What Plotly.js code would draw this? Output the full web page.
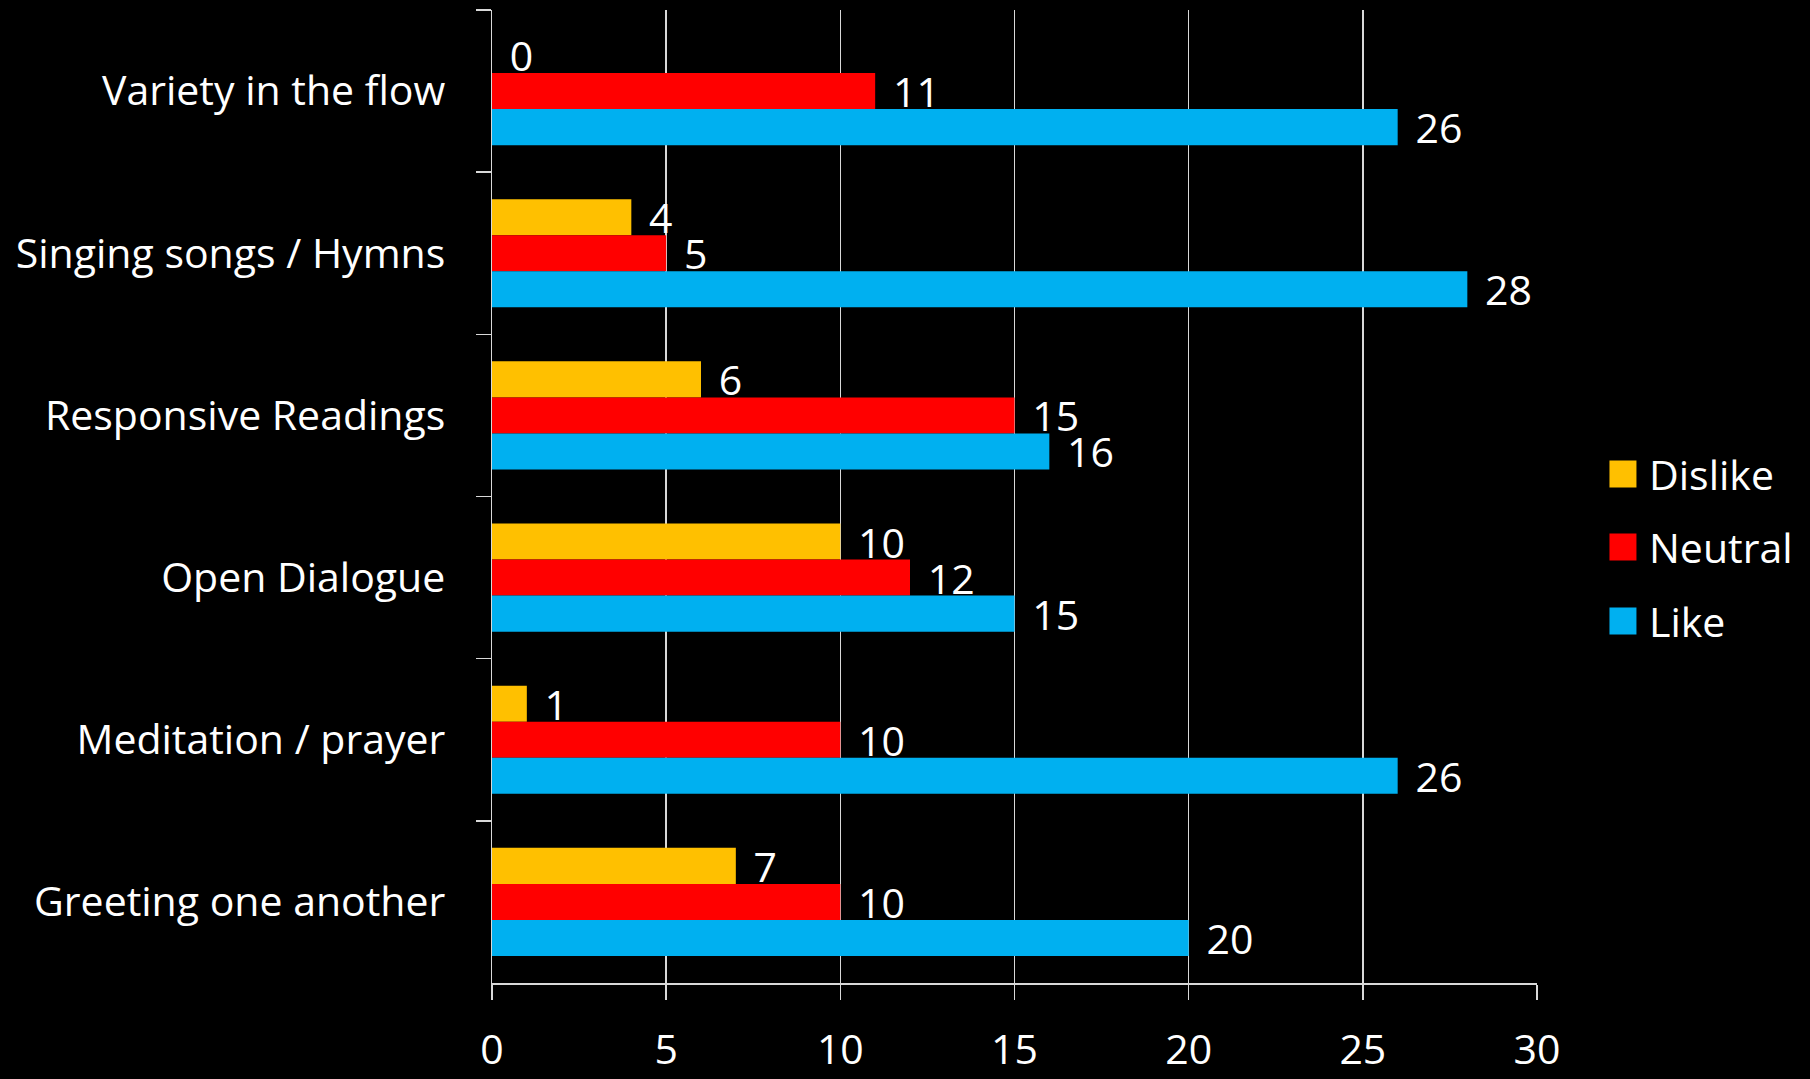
<!DOCTYPE html>
<html>
<head>
<meta charset="utf-8">
<script src="https://cdn.plot.ly/plotly-3.0.1.min.js"></script>
<style>
html,body{margin:0;padding:0;background:#000;}
#chart{width:1810px;height:1079px;}
</style>
</head>
<body>
<div id="chart"></div>
<script>
const categories = ["Variety in the flow","Singing songs / Hymns","Responsive Readings","Open Dialogue","Meditation / prayer","Greeting one another"];
const seriesNames = ["Dislike","Neutral","Like"];
const dislike = [0,4,6,10,1,7];
const neutral = [11,5,15,12,10,10];
const like = [26,28,16,15,26,20];
const colors = ["#FFC000","#FF0000","#00B0F0"];
const xTicks = [0,5,10,15,20,25,30];

const FONT = "'Open Sans', Lato, sans-serif";
const values = [dislike, neutral, like];

const traces = values.map((v,i)=>({
  type:'bar', orientation:'h',
  name: seriesNames[i],
  x: v, y: categories,
  marker:{color: colors[i]},
  texttemplate: '\u00a0\u200a%{x}',
  textposition:'outside',
  constraintext:'none',
  textfont:{color:'#ffffff', size:41, family:FONT},
  cliponaxis:false,
  showlegend:false,
  hoverinfo:'x+name'
}));

// custom legend (square swatches + labels)
const legendShapes = [];
const legendAnn = [];
const legY = [474, 547, 621];
seriesNames.forEach((n,i)=>{
  legendShapes.push({type:'rect', xref:'paper', yref:'paper',
    x0:(1610-492)/(1537.5-492), x1:(1637-492)/(1537.5-492),
    y0:(983-(legY[i]+13.5))/(983-10), y1:(983-(legY[i]-13.5))/(983-10),
    fillcolor:colors[i], line:{width:0}});
  legendAnn.push({xref:'paper', yref:'paper',
    x:(1648-492)/(1537.5-492), y:(983-legY[i])/(983-10),
    xanchor:'left', yanchor:'middle', showarrow:false,
    text:n, font:{color:'#ffffff', size:41, family:FONT}});
});

const layout = {
  width:1810, height:1079,
  paper_bgcolor:'#000000', plot_bgcolor:'#000000',
  margin:{l:492, r:272.5, t:10, b:96, pad:0},
  barmode:'group', bargap:0.333, bargroupgap:0,
  showlegend:false,
  font:{family:FONT, color:'#ffffff', size:41},
  xaxis:{
    range:[0,30], tickvals:xTicks, ticktext:xTicks.map(String),
    showgrid:true, gridcolor:'#d9d9d9', gridwidth:1.5,
    zeroline:false, showline:true, linecolor:'#d9d9d9', linewidth:1.5,
    ticks:'outside', ticklen:15, tickcolor:'#d9d9d9', tickwidth:1.5,
    ticklabelstandoff:15,
    tickfont:{size:41, color:'#ffffff', family:FONT}
  },
  yaxis:{
    type:'category', autorange:'reversed',
    tickson:'boundaries', ticks:'outside', ticklen:15, tickcolor:'#d9d9d9', tickwidth:1.5,
    showline:true, linecolor:'#d9d9d9', linewidth:1.5,
    showgrid:false, zeroline:false,
    ticklabelstandoff:37,
    tickfont:{size:41, color:'#ffffff', family:FONT}
  },
  shapes: legendShapes,
  annotations: legendAnn
};

Plotly.newPlot('chart', traces, layout, {displayModeBar:false, staticPlot:true});
</script>
</body>
</html>
